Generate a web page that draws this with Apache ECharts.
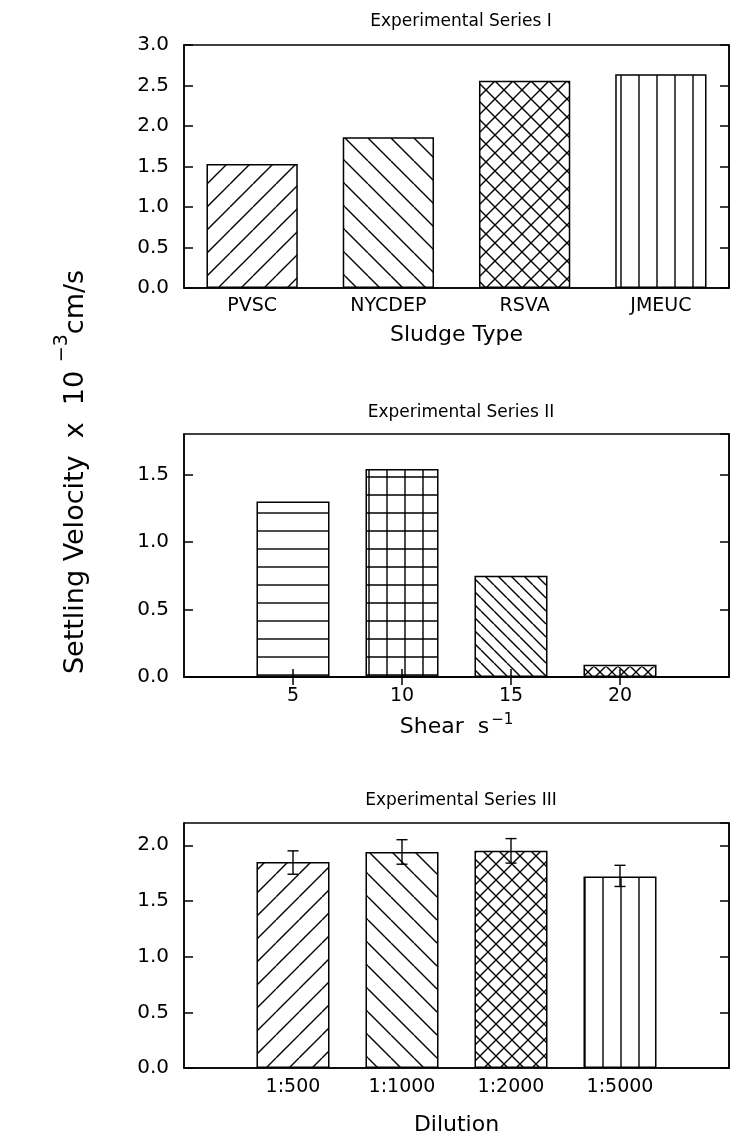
<!DOCTYPE html>
<html>
<head>
<meta charset="utf-8">
<script src="https://cdn.jsdelivr.net/npm/echarts@6/dist/echarts.min.js"></script>
<style>
  html, body { margin: 0; padding: 0; background: #fff; }
  #container { width: 733px; height: 1142px; }
</style>
</head>
<body>
<div id="container"></div>
<script>
  // Series I
  var sludgeTypes = ['PVSC', 'NYCDEP', 'RSVA', 'JMEUC'];
  var series1Values = [1.53, 1.86, 2.56, 2.64];
  // Series II
  var shearRates = ['5', '10', '15', '20'];
  var series2Values = [1.30, 1.54, 0.75, 0.09];
  // Series III
  var dilutions = ['1:500', '1:1000', '1:2000', '1:5000'];
  var series3Values = [1.85, 1.94, 1.95, 1.72];
  var series3ErrLow = [1.74, 1.83, 1.84, 1.63];
  var series3ErrHigh = [1.95, 2.05, 2.06, 1.82];

  var FONT = 'DejaVu Sans';

  //hatch fills drawn on small canvases
  function hatch(kind, w, h) {
    h = h || w;
    var c = document.createElement('canvas');
    c.width = w; c.height = h;
    var g = c.getContext('2d');
    g.fillStyle = '#fff';
    g.fillRect(0, 0, w, h);
    g.strokeStyle = '#000';
    g.lineWidth = 1.4;
    g.beginPath();
    for (var k = -1; k <= 1; k++) {
      if (kind == 'fwd' || kind == 'cross') {
        g.moveTo(k * w, h); g.lineTo(k * w + w, 0);
      }
      if (kind == 'back' || kind == 'cross') {
        g.moveTo(k * w, 0); g.lineTo(k * w + w, h);
      }
    }
    if (kind == 'vert' || kind == 'grid') {
      g.moveTo(w / 2, 0); g.lineTo(w / 2, h);
    }
    if (kind == 'horz' || kind == 'grid') {
      g.moveTo(0, h / 2); g.lineTo(w, h / 2);
    }
    g.stroke();
    return { image: c, repeat: 'repeat' };
  }

  var fills1 = [hatch('fwd', 23), hatch('back', 23), hatch('cross', 18), hatch('vert', 18, 18)];
  var fills2 = [null, hatch('horz', 20, 18), hatch('grid', 18, 18), hatch('back', 13), hatch('cross', 12), null];
  var fills3 = [null, hatch('fwd', 23), hatch('back', 23), hatch('cross', 16), hatch('vert', 18, 18), null];

  var cats2 = [''].concat(shearRates, ['']);
  var cats3 = [''].concat(dilutions, ['']);
  function pad(arr) { return ['-'].concat(arr, ['-']); }

  var lineStyle = { color: '#000', width: 1.5 };

  function leftAxis(gi, max) {
    return {
      gridIndex: gi, type: 'value', min: 0, max: max, interval: 0.5,
      axisLine: { show: true, lineStyle: lineStyle },
      axisTick: { show: true, inside: true, length: 9, lineStyle: lineStyle },
      axisLabel: { color: '#000', fontFamily: FONT, fontSize: 20, margin: 15, showMaxLabel: max == 3,
        formatter: function (v) { return v.toFixed(1); } },
      splitLine: { show: false }
    };
  }
  function rightAxis(gi, max) {
    return {
      gridIndex: gi, type: 'value', position: 'right', min: 0, max: max, interval: 0.5,
      axisLine: { show: true, lineStyle: lineStyle },
      axisTick: { show: true, inside: true, length: 9, lineStyle: lineStyle },
      axisLabel: { show: false },
      splitLine: { show: false }
    };
  }
  function skipEnds(i, v) { return v !== ''; }

  function bars(gi, data, fills) {
    return {
      type: 'bar', xAxisIndex: gi, yAxisIndex: gi * 2,
      barWidth: '67%',
      data: data.map(function (v, i) {
        return {
          value: v,
          itemStyle: { color: fills[i] || '#fff', borderColor: '#000', borderWidth: 1.5 }
        };
      }),
      silent: true, animation: false
    };
  }

  var dom = document.getElementById('container');
  var myChart = echarts.init(dom);

  var titleStyle = { fontSize: 17, fontWeight: 'normal', color: '#000', fontFamily: FONT };

  var option = {
    backgroundColor: '#fff',
    animation: false,
    title: [
      { text: 'Experimental Series I', left: 456, top: 8, textAlign: 'center', textStyle: titleStyle },
      { text: 'Experimental Series II', left: 456, top: 399, textAlign: 'center', textStyle: titleStyle },
      { text: 'Experimental Series III', left: 456, top: 787, textAlign: 'center', textStyle: titleStyle }
    ],
    grid: [
      { left: 184, top: 45, width: 545, height: 243, show: true, borderColor: '#000', borderWidth: 1.5 },
      { left: 184, top: 434, width: 545, height: 243, show: true, borderColor: '#000', borderWidth: 1.5 },
      { left: 184, top: 823, width: 545, height: 245, show: true, borderColor: '#000', borderWidth: 1.5 }
    ],
    xAxis: [
      { gridIndex: 0, type: 'category', data: sludgeTypes,
        axisLine: { show: true, lineStyle: lineStyle }, axisTick: { show: false },
        axisLabel: { color: '#000', fontFamily: FONT, fontSize: 19, margin: 9 },
        name: 'Sludge Type', nameLocation: 'middle', nameGap: 36,
        nameTextStyle: { fontSize: 22, color: '#000', fontFamily: FONT } },
      { gridIndex: 1, type: 'category', data: cats2, boundaryGap: false, z: 5,
        axisLine: { show: true, lineStyle: lineStyle },
        axisTick: { show: true, inside: true, length: 8, interval: skipEnds, lineStyle: lineStyle },
        axisLabel: { color: '#000', fontFamily: FONT, fontSize: 19, margin: 10 },
        name: 'Shear  s{sup|−1}', nameLocation: 'middle', nameGap: 36,
        nameTextStyle: { fontSize: 22, color: '#000', fontFamily: FONT,
          rich: { sup: { fontSize: 15, color: '#000', fontFamily: FONT, padding: [0, 0, 14, 2] } } } },
      { gridIndex: 2, type: 'category', data: cats3, boundaryGap: false,
        axisLine: { show: true, lineStyle: lineStyle }, axisTick: { show: false },
        axisLabel: { color: '#000', fontFamily: FONT, fontSize: 19, margin: 10 },
        name: 'Dilution', nameLocation: 'middle', nameGap: 46,
        nameTextStyle: { fontSize: 22, color: '#000', fontFamily: FONT } },
      { gridIndex: 1, type: 'category', data: cats2, boundaryGap: false, position: 'top',
        axisLine: { show: true, lineStyle: lineStyle },
        axisTick: { show: true, inside: true, length: 8, interval: skipEnds, lineStyle: lineStyle },
        axisLabel: { show: false } }
    ],
    yAxis: [
      leftAxis(0, 3), rightAxis(0, 3),
      leftAxis(1, 1.8), rightAxis(1, 1.8),
      leftAxis(2, 2.2), rightAxis(2, 2.2)
    ],
    graphic: [
      { type: 'text', x: 76, y: 472, rotation: Math.PI / 2,
        style: { text: 'Settling Velocity  x  10 {sup|−3}cm/s', fill: '#000',
          font: '27px "DejaVu Sans"', align: 'center', verticalAlign: 'middle',
          rich: { sup: { fontSize: 19, fontFamily: FONT, fill: '#000', padding: [0, 0, 28, 0] } } } }
    ],
    series: [
      bars(0, series1Values, fills1),
      bars(1, pad(series2Values), fills2),
      bars(2, pad(series3Values), fills3),
      {
        type: 'custom', xAxisIndex: 2, yAxisIndex: 4, silent: true, z: 5,
        data: dilutions.map(function (d, i) { return [i + 1, series3ErrLow[i], series3ErrHigh[i]]; }),
        renderItem: function (params, api) {
          var lo = api.coord([api.value(0), api.value(1)]);
          var hi = api.coord([api.value(0), api.value(2)]);
          var hw = 5.5;
          var st = { stroke: '#000', lineWidth: 1.4 };
          return { type: 'group', children: [
            { type: 'line', shape: { x1: lo[0], y1: lo[1], x2: hi[0], y2: hi[1] }, style: st },
            { type: 'line', shape: { x1: lo[0] - hw, y1: lo[1], x2: lo[0] + hw, y2: lo[1] }, style: st },
            { type: 'line', shape: { x1: hi[0] - hw, y1: hi[1], x2: hi[0] + hw, y2: hi[1] }, style: st }
          ] };
        }
      }
    ]
  };

  if (option && typeof option === "object") {
      myChart.setOption(option, true);
  }
</script>
</body>
</html>
